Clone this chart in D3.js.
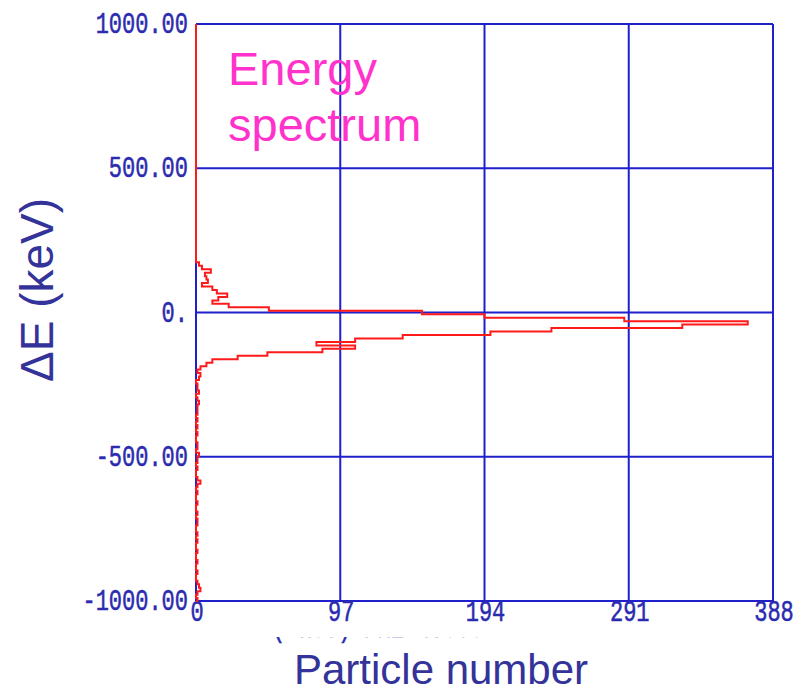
<!DOCTYPE html>
<html lang="en">
<head>
<meta charset="utf-8">
<script src="https://cdn.jsdelivr.net/npm/d3@7"></script>
<style>
body { margin: 0; background: #fff; }
.grid line { stroke: #1f1fcc; stroke-width: 2; }
.tick-label { font-family: "Liberation Mono", "DejaVu Sans Mono", monospace; font-size: 22px; fill: #2b2bb0; stroke: #2b2bb0; stroke-width: 0.4; }
.spectrum { fill: none; stroke: #ff1a1a; stroke-width: 2; }
.title { font-family: "Liberation Sans", Arial, sans-serif; fill: #333399; }
.note { font-family: "Liberation Sans", Arial, sans-serif; fill: #ff33cc; font-size: 47px; }
</style>
</head>
<body>
<script>
// tick values
var countTicks = [0, 97, 194, 291, 388];
var energyTicks = [-1000, -500, 0, 500, 1000];
var energyTickLabels = ["-1000.00", "-500.00", "0.", "500.00", "1000.00"];

// histogram: bins of 12 keV, first bin top edge at +174 keV, going down
var binTop = 174, binWidth = 12;
var counts = [
    2, 4, 10, 6, 7, 8, 4, 11, 14, 21, 15, 11, 22, 49, 152,
    194, 288, 371, 327, 239, 198, 139, 107, 81, 107, 85, 48, 28, 11, 7,
    3, 1, 3, 2, 0, 1, 1, 2, 0, 1, 2, 1, 1, 1, 0,
    1, 0, 1, 0, 1, 0, 0, 1, 1, 0, 2, 1, 1, 0, 1,
    0, 0, 1, 3, 1, 0, 1, 0, 0, 1, 0, 0, 1, 0, 1,
    1, 0, 0, 1, 0, 1, 0, 0, 1, 0, 0, 1, 0, 0, 1,
    0, 0, 1, 2, 3, 1, 0, 1
];

var width = 795, height = 691;

var x = d3.scaleLinear().domain([0, 388]).range([196, 773]);
var y = d3.scaleLinear().domain([-1000, 1000]).range([601, 24]);

var svg = d3.select("body").append("svg")
    .attr("width", width)
    .attr("height", height);

// grid
var grid = svg.append("g").attr("class", "grid");
grid.selectAll(".v").data(countTicks).enter().append("line")
    .attr("x1", function (d) { return x(d); })
    .attr("x2", function (d) { return x(d); })
    .attr("y1", y(1000)).attr("y2", y(-1000));
grid.selectAll(".h").data(energyTicks).enter().append("line")
    .attr("y1", function (d) { return y(d); })
    .attr("y2", function (d) { return y(d); })
    .attr("x1", x(0)).attr("x2", x(388));

// tick labels
svg.selectAll(".ylab").data(energyTicks).enter().append("text")
    .attr("class", "tick-label")
    .attr("text-anchor", "end")
    .attr("transform", function (d) { return "translate(188," + (y(d) + 9) + ") scale(1,1.3)"; })
    .text(function (d, i) { return energyTickLabels[i]; });

svg.selectAll(".xlab").data(countTicks).enter().append("text")
    .attr("class", "tick-label")
    .attr("text-anchor", "middle")
    .attr("transform", function (d) { return "translate(" + (x(d) + 1) + ",621) scale(1,1.3)"; })
    .text(function (d) { return d; });

// cut off axis note under the tick labels
svg.append("clipPath").attr("id", "cut")
    .append("rect").attr("x", 0).attr("y", 0).attr("width", width).attr("height", 629);
svg.append("text")
    .attr("class", "tick-label")
    .attr("clip-path", "url(#cut)")
    .attr("transform", "translate(272,637) scale(1,1.3)")
    .text("( keV) /ME   4.060");

// spectrum outline
var pts = [[0, 1000], [0, binTop]];
counts.forEach(function (c, i) {
    var top = binTop - i * binWidth,
        bot = Math.max(-1000, top - binWidth);
    pts.push([c, top], [c, bot]);
});
pts.push([0, -1000]);

var line = d3.line()
    .x(function (d) { return x(d[0]); })
    .y(function (d) { return y(d[1]); });

svg.append("path")
    .attr("class", "spectrum")
    .attr("d", line(pts));

// labels
svg.append("text").attr("class", "note").attr("x", 228).attr("y", 85).text("Energy");
svg.append("text").attr("class", "note").attr("x", 228).attr("y", 141).text("spectrum");

svg.append("text").attr("class", "title")
    .attr("font-size", 46)
    .attr("text-anchor", "middle")
    .attr("transform", "translate(53,290) rotate(-90)")
    .text("\u0394E (keV)");

svg.append("text").attr("class", "title")
    .attr("font-size", 42)
    .attr("text-anchor", "middle")
    .attr("x", 441).attr("y", 684)
    .text("Particle number");
</script>
</body>
</html>
